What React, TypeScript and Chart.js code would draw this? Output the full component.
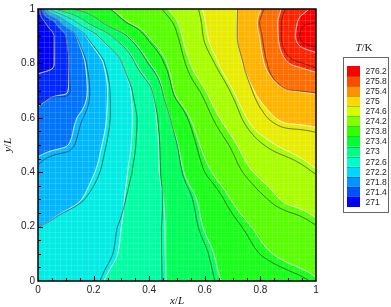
import React, { useEffect, useRef } from "react";
import { Chart, registerables } from "chart.js";

Chart.register(...registerables);

// grid node positions (x/L, y/L)
const xNodes = [0, 0.05, 0.1, 0.2, 0.3, 0.4, 0.5, 0.6, 0.7, 0.8, 0.9, 0.95, 1];
const yNodes = [0, 0.1, 0.2, 0.3, 0.4, 0.5, 0.6, 0.7, 0.8, 0.9, 0.95, 1];

// simulated temperature (K) at the nodes, one row per y/L (bottom to top)
const tRow000 = [272.36, 272.41, 272.46, 272.55, 272.70, 272.88, 273.08, 273.30, 273.46, 273.56, 273.67, 273.72, 273.78];
const tRow010 = [272.28, 272.34, 272.39, 272.50, 272.62, 272.86, 273.10, 273.33, 273.54, 273.74, 273.86, 273.90, 273.93];
const tRow020 = [272.19, 272.24, 272.32, 272.46, 272.60, 272.85, 273.12, 273.42, 273.66, 273.86, 274.00, 274.07, 274.14];
const tRow030 = [272.02, 272.07, 272.12, 272.28, 272.57, 272.84, 273.16, 273.50, 273.82, 274.06, 274.24, 274.28, 274.33];
const tRow040 = [271.88, 271.96, 272.04, 272.19, 272.53, 272.85, 273.29, 273.72, 274.01, 274.25, 274.38, 274.47, 274.57];
const tRow050 = [271.73, 271.76, 271.79, 272.09, 272.48, 272.83, 273.38, 273.87, 274.15, 274.47, 274.68, 274.75, 274.83];
const tRow060 = [271.52, 271.61, 271.70, 271.99, 272.46, 272.83, 273.57, 274.02, 274.36, 274.82, 275.08, 275.09, 275.10];
const tRow070 = [271.22, 271.32, 271.38, 271.94, 272.45, 272.92, 273.87, 274.19, 274.59, 275.10, 275.39, 275.42, 275.45];
const tRow080 = [270.90, 270.97, 271.32, 272.00, 272.58, 273.38, 274.00, 274.40, 274.82, 275.33, 275.79, 275.88, 275.97];
const tRow090 = [270.80, 270.96, 271.39, 272.48, 273.24, 273.82, 274.13, 274.56, 274.93, 275.42, 276.02, 276.32, 276.42];
const tRow095 = [270.78, 271.24, 272.08, 273.20, 273.72, 273.96, 274.19, 274.59, 274.93, 275.46, 276.00, 276.26, 276.30];
const tRow100 = [270.76, 272.80, 273.32, 273.64, 273.88, 274.06, 274.28, 274.63, 274.94, 275.39, 275.93, 276.15, 276.24];

const temperatureRows = [tRow000, tRow010, tRow020, tRow030, tRow040, tRow050, tRow060, tRow070, tRow080, tRow090, tRow095, tRow100];

// measured minus simulated temperature (K), coarse nodes, for the dark measured contours
const dNodes = [0, 0.2, 0.4, 0.6, 0.8, 1];
const dRow0 = [0.0, 0.02, 0.03, 0.03, 0.05, 0.05];
const dRow2 = [0.0, 0.02, 0.03, 0.05, 0.08, 0.05];
const dRow4 = [-0.05, -0.05, -0.05, 0.08, 0.1, 0.05];
const dRow6 = [0.0, -0.08, -0.05, 0.08, 0.1, 0.05];
const dRow8 = [0.05, -0.05, 0.05, 0.08, -0.05, -0.1];
const dRow10 = [0.0, 0.0, 0.05, 0.05, -0.05, -0.1];
const deltaRows = [dRow0, dRow2, dRow4, dRow6, dRow8, dRow10];

// contour levels (legend) and their colours
const levels = [271, 271.4, 271.8, 272.2, 272.6, 273, 273.4, 273.8, 274.2, 274.6, 275, 275.4, 275.8, 276.2];
const levelColors = [
  "#0000ff", "#0050ff", "#0096ff", "#00d8ff", "#00ffc8", "#00ff80", "#00ff30",
  "#30ff00", "#80ff00", "#d0ff00", "#ffd800", "#ff9000", "#ff4800", "#ff0000",
];

const axisTicks = [0, 0.2, 0.4, 0.6, 0.8, 1];

function hexToRgb(h: string) {
  return [parseInt(h.slice(1, 3), 16), parseInt(h.slice(3, 5), 16), parseInt(h.slice(5, 7), 16)];
}

function findCell(nodes: number[], v: number) {
  for (let i = 0; i < nodes.length - 2; i++) if (v <= nodes[i + 1]) return i;
  return nodes.length - 2;
}

// monotone cubic (PCHIP) slopes
function pchipSlopes(xs: number[], ys: number[]) {
  const n = xs.length;
  const h: number[] = [];
  const d: number[] = [];
  for (let k = 0; k < n - 1; k++) {
    h.push(xs[k + 1] - xs[k]);
    d.push((ys[k + 1] - ys[k]) / h[k]);
  }
  const m = new Array(n).fill(0);
  m[0] = d[0];
  m[n - 1] = d[n - 2];
  for (let k = 1; k < n - 1; k++) {
    if (d[k - 1] * d[k] <= 0) m[k] = 0;
    else {
      const w1 = 2 * h[k] + h[k - 1];
      const w2 = h[k] + 2 * h[k - 1];
      m[k] = (w1 + w2) / (w1 / d[k - 1] + w2 / d[k]);
    }
  }
  return m;
}

function pchipEval(xs: number[], ys: number[], m: number[], x: number) {
  const k = findCell(xs, x);
  const h = xs[k + 1] - xs[k];
  let t = (x - xs[k]) / h;
  t = Math.max(0, Math.min(1, t));
  const t2 = t * t;
  const t3 = t2 * t;
  return (
    (2 * t3 - 3 * t2 + 1) * ys[k] +
    (t3 - 2 * t2 + t) * h * m[k] +
    (-2 * t3 + 3 * t2) * ys[k + 1] +
    (t3 - t2) * h * m[k + 1]
  );
}

function bilinear(xs: number[], ys: number[], rows: number[][], x: number, y: number) {
  const i = findCell(xs, x);
  const j = findCell(ys, y);
  const tx = Math.max(0, Math.min(1, (x - xs[i]) / (xs[i + 1] - xs[i])));
  const ty = Math.max(0, Math.min(1, (y - ys[j]) / (ys[j + 1] - ys[j])));
  const a = rows[j][i] * (1 - tx) + rows[j][i + 1] * tx;
  const b = rows[j + 1][i] * (1 - tx) + rows[j + 1][i + 1] * tx;
  return a * (1 - ty) + b * ty;
}

// band colours: below first level, between consecutive levels (mid colour), above last level
function bandColors() {
  const rgb = levelColors.map(hexToRgb);
  const out: number[][] = [rgb[0]];
  for (let i = 0; i < rgb.length - 1; i++) {
    out.push([0, 1, 2].map((c) => Math.round((rgb[i][c] + rgb[i + 1][c]) / 2)));
  }
  out.push(rgb[rgb.length - 1]);
  return out;
}

function bandIndex(T: number) {
  let k = 0;
  for (let i = 0; i < levels.length; i++) if (T >= levels[i]) k = i + 1;
  return k;
}

function strokeContours(ctx: any, F: Float32Array, W: number, H: number, left: number, top: number) {
  for (let li = 0; li < levels.length; li++) {
    const L = levels[li];
    ctx.beginPath();
    for (let j = 0; j < H - 1; j++) {
      for (let i = 0; i < W - 1; i++) {
        const a = F[j * W + i];
        const b = F[j * W + i + 1];
        const c = F[(j + 1) * W + i + 1];
        const d = F[(j + 1) * W + i];
        const pts: number[][] = [];
        if ((a < L) !== (b < L)) pts.push([i + (L - a) / (b - a), j]);
        if ((b < L) !== (c < L)) pts.push([i + 1, j + (L - b) / (c - b)]);
        if ((d < L) !== (c < L)) pts.push([i + (L - d) / (c - d), j + 1]);
        if ((a < L) !== (d < L)) pts.push([i, j + (L - a) / (d - a)]);
        for (let k = 0; k + 1 < pts.length; k += 2) {
          ctx.moveTo(left + pts[k][0] + 0.5, top + pts[k][1] + 0.5);
          ctx.lineTo(left + pts[k + 1][0] + 0.5, top + pts[k + 1][1] + 0.5);
        }
      }
    }
    ctx.stroke();
  }
}

const contourPlugin = {
  id: "contourField",
  beforeDatasetsDraw(chart: any) {
    const { ctx, chartArea, scales } = chart;
    const xs = scales.x;
    const ys = scales.y;
    const left = Math.round(chartArea.left);
    const top = Math.round(chartArea.top);
    const W = Math.round(chartArea.right) - left;
    const H = Math.round(chartArea.bottom) - top;
    const img = ctx.createImageData(W, H);
    const F = new Float32Array(W * H);
    const G = new Float32Array(W * H);
    const bands = bandColors();
    const rowSlopes = temperatureRows.map((r) => pchipSlopes(xNodes, r));
    const yv: number[] = [];
    for (let j = 0; j < H; j++) yv.push(ys.getValueForPixel(top + j + 0.5));
    for (let i = 0; i < W; i++) {
      const xv = xs.getValueForPixel(left + i + 0.5);
      const col = temperatureRows.map((r, k) => pchipEval(xNodes, r, rowSlopes[k], xv));
      const colSlopes = pchipSlopes(yNodes, col);
      for (let j = 0; j < H; j++) {
        const T = pchipEval(yNodes, col, colSlopes, yv[j]);
        F[j * W + i] = T;
        G[j * W + i] = T + bilinear(dNodes, dNodes, deltaRows, xv, yv[j]);
        const c = bands[bandIndex(T)];
        const p = (j * W + i) * 4;
        img.data[p] = c[0];
        img.data[p + 1] = c[1];
        img.data[p + 2] = c[2];
        img.data[p + 3] = 255;
      }
    }
    ctx.putImageData(img, left, top);

    ctx.save();
    // faint mesh
    ctx.strokeStyle = "rgba(255,255,255,0.13)";
    ctx.lineWidth = 1;
    ctx.beginPath();
    for (let k = 1; k < 50; k++) {
      const v = k / 50;
      const px = Math.round(xs.getPixelForValue(v)) + 0.5;
      const py = Math.round(ys.getPixelForValue(v)) + 0.5;
      ctx.moveTo(px, top);
      ctx.lineTo(px, top + H);
      ctx.moveTo(left, py);
      ctx.lineTo(left + W, py);
    }
    ctx.stroke();

    // simulated contour lines (white)
    ctx.strokeStyle = "rgba(255,255,255,0.9)";
    ctx.lineWidth = 1;
    strokeContours(ctx, F, W, H, left, top);
    // measured contour lines (dark)
    ctx.strokeStyle = "rgba(30,30,30,0.8)";
    ctx.lineWidth = 0.8;
    strokeContours(ctx, G, W, H, left, top);
    ctx.restore();
  },
  afterDraw(chart: any) {
    const { ctx, chartArea, scales } = chart;
    const xs = scales.x;
    const ys = scales.y;
    ctx.save();
    // frame
    ctx.strokeStyle = "#000";
    ctx.lineWidth = 1.5;
    ctx.strokeRect(chartArea.left, chartArea.top, chartArea.right - chartArea.left, chartArea.bottom - chartArea.top);
    // inward ticks
    ctx.lineWidth = 1;
    ctx.beginPath();
    for (let k = 1; k < 20; k++) {
      const v = k * 0.05;
      const major = k % 4 === 0;
      const len = major ? 5 : 3;
      const px = Math.round(xs.getPixelForValue(v)) + 0.5;
      ctx.moveTo(px, chartArea.bottom);
      ctx.lineTo(px, chartArea.bottom - len);
      const py = Math.round(ys.getPixelForValue(v)) + 0.5;
      ctx.moveTo(chartArea.left, py);
      ctx.lineTo(chartArea.left + len, py);
    }
    ctx.stroke();

    // axis titles
    ctx.fillStyle = "#111";
    const drawMath = (parts: [string, boolean][], cx: number, cy: number) => {
      let total = 0;
      const widths = parts.map(([t, it]) => {
        ctx.font = `${it ? "italic " : ""}11px "Liberation Serif"`;
        const w = ctx.measureText(t).width;
        total += w;
        return w;
      });
      let x0 = cx - total / 2;
      ctx.textBaseline = "alphabetic";
      ctx.textAlign = "left";
      parts.forEach(([t, it], idx) => {
        ctx.font = `${it ? "italic " : ""}11px "Liberation Serif"`;
        ctx.fillText(t, x0, cy);
        x0 += widths[idx];
      });
    };
    const cxPlot = (chartArea.left + chartArea.right) / 2;
    const cyPlot = (chartArea.top + chartArea.bottom) / 2;
    drawMath([["x", true], ["/", false], ["L", true]], cxPlot, 303.5);
    ctx.save();
    ctx.translate(10.5, cyPlot);
    ctx.rotate(-Math.PI / 2);
    drawMath([["y", true], ["/", false], ["L", true]], 0, 0);
    ctx.restore();

    // colour legend
    drawMath([["T", true], ["/K", false]], 364, 50.5);
    ctx.strokeStyle = "#666";
    ctx.lineWidth = 1;
    ctx.strokeRect(343.5, 57.5, 45, 155);
    const swTop = 66;
    const swH = 10.07;
    ctx.font = '8.5px "Liberation Sans"';
    ctx.textBaseline = "middle";
    ctx.textAlign = "left";
    for (let i = 0; i < levels.length; i++) {
      const idx = levels.length - 1 - i;
      const y0 = swTop + i * swH;
      ctx.fillStyle = levelColors[idx];
      ctx.fillRect(347, y0, 13, swH);
      ctx.fillStyle = "#222";
      ctx.fillText(String(levels[idx]), 365.5, y0 + swH / 2 + 0.5);
    }
    ctx.strokeStyle = "rgba(0,0,0,0.25)";
    ctx.beginPath();
    for (let i = 1; i < levels.length; i++) {
      const y0 = Math.round(swTop + i * swH) + 0.5;
      ctx.moveTo(347, y0);
      ctx.lineTo(360, y0);
    }
    ctx.stroke();
    ctx.restore();
  },
};

export default function App() {
  const canvasRef = useRef<HTMLCanvasElement | null>(null);
  useEffect(() => {
    document.body.style.margin = "0";
    const canvas = canvasRef.current;
    if (!canvas) return;
    const fmt = (v: any) => {
      const n = Number(v);
      const hit = axisTicks.find((t) => Math.abs(t - n) < 1e-6);
      return hit === undefined ? "" : String(hit);
    };
    const chart = new Chart(canvas, {
      type: "scatter",
      data: { datasets: [{ data: [], pointRadius: 0 }] },
      options: {
        animation: false,
        responsive: false,
        devicePixelRatio: 1,
        events: [],
        layout: { padding: { left: 0, right: 75, top: 3, bottom: 0 } },
        plugins: { legend: { display: false }, tooltip: { enabled: false }, title: { display: false } },
        scales: {
          x: {
            type: "linear",
            min: 0,
            max: 1,
            grid: { display: false, drawTicks: false },
            border: { display: false },
            ticks: {
              stepSize: 0.2,
              autoSkip: false,
              maxRotation: 0,
              padding: 3,
              color: "#222",
              font: { family: "Liberation Sans", size: 10 },
              callback: fmt,
            },
            afterFit: (s: any) => {
              s.height = 26;
            },
          },
          y: {
            type: "linear",
            min: 0,
            max: 1,
            grid: { display: false, drawTicks: false },
            border: { display: false },
            ticks: {
              stepSize: 0.2,
              autoSkip: false,
              padding: 3,
              color: "#222",
              font: { family: "Liberation Sans", size: 10 },
              callback: fmt,
            },
            afterFit: (s: any) => {
              s.width = 38;
            },
          },
        },
      } as any,
      plugins: [contourPlugin],
    });
    return () => chart.destroy();
  }, []);
  return (
    <div style={{ width: 391, height: 307 }}>
      <canvas ref={canvasRef} width={391} height={307} style={{ display: "block" }} />
    </div>
  );
}
